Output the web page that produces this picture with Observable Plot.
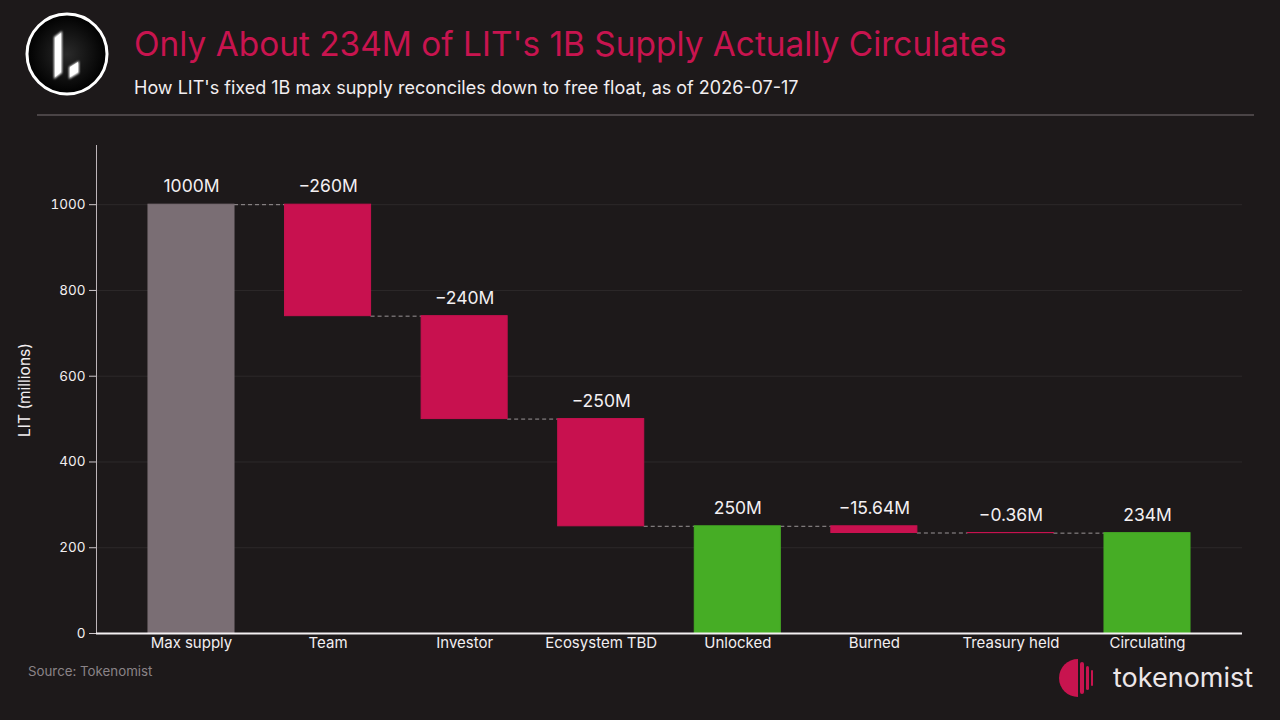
<!DOCTYPE html>
<html>
<head>
<meta charset="utf-8">
<script src="https://cdn.jsdelivr.net/npm/d3@7"></script>
<script src="https://cdn.jsdelivr.net/npm/@observablehq/plot@0.6"></script>
<style>
  html, body { margin: 0; padding: 0; }
  body { width: 1280px; height: 720px; background: #1d191a; position: relative; overflow: hidden; font-family: Inter, "Noto Sans", sans-serif; }
  #logo { position: absolute; left: 24px; top: 11px; }
  #title { position: absolute; left: 134px; top: 24px; font-size: 33.4px; color: #c8144f; white-space: nowrap; }
  #subtitle { position: absolute; left: 134px; top: 77px; font-size: 18px; color: #f2eef0; white-space: nowrap; }
  #sep { position: absolute; left: 37px; top: 114px; width: 1217px; height: 2px; background: #4a4446; }
  #chart { position: absolute; left: 0; top: 130px; }
  #ylabel { position: absolute; left: 24px; top: 390px; transform: translate(-50%, -50%) rotate(-90deg); font-size: 15.5px; color: #f2eef0; white-space: nowrap; }
  #source { position: absolute; left: 28px; top: 663px; font-size: 13.3px; color: #8a8387; }
  #brand { position: absolute; left: 1058px; top: 658px; }
</style>
</head>
<body>
<svg id="logo" width="86" height="86" viewBox="0 0 86 86">
  <defs>
    <radialGradient id="lg" cx="50%" cy="50%" r="50%">
      <stop offset="0%" stop-color="#2a2a2a"/>
      <stop offset="100%" stop-color="#000"/>
    </radialGradient>
    <filter id="glow"><feGaussianBlur stdDeviation="1.2"/></filter>
  </defs>
  <circle cx="43" cy="43" r="40" fill="url(#lg)" stroke="#fff" stroke-width="3"/>
  <g fill="#fff" filter="url(#glow)">
    <polygon points="30,26 38,20 38,62 30,68"/>
    <polygon points="45,56 55,50 55,62 45,68"/>
  </g>
  <g fill="#fff">
    <polygon points="31,27 37,22 37,61 31,66"/>
    <polygon points="46,56 54,51 54,61 46,66"/>
  </g>
</svg>
<div id="title">Only About 234M of LIT's 1B Supply Actually Circulates</div>
<div id="subtitle">How LIT's fixed 1B max supply reconciles down to free float, as of 2026-07-17</div>
<div id="sep"></div>
<div id="chart"></div>
<div id="ylabel">LIT (millions)</div>
<div id="source">Source: Tokenomist</div>
<svg id="brand" width="200" height="42" viewBox="0 0 200 42">
  <defs><clipPath id="hc"><rect x="0" y="0" width="20" height="42"/></clipPath></defs>
  <circle cx="20" cy="20" r="19" fill="#c8144f" clip-path="url(#hc)"/>
  <rect x="22" y="4" width="4" height="32" rx="2" fill="#c8144f"/>
  <rect x="28" y="8" width="3" height="24" rx="1.5" fill="#c8144f"/>
  <rect x="33" y="12" width="2" height="16" rx="1" fill="#c8144f"/>
  <text x="55" y="29" font-size="27" fill="#ece6e8" font-family="Inter, sans-serif">tokenomist</text>
</svg>
<script>
// ---- data ----
const categories = ["Max supply", "Team", "Investor", "Ecosystem TBD", "Unlocked", "Burned", "Treasury held", "Circulating"];
const values = [1000, -260, -240, -250, 250, -15.64, -0.36, 234];
const kinds = ["total", "delta", "delta", "delta", "subtotal", "delta", "delta", "subtotal"];
const yTicks = [0, 200, 400, 600, 800, 1000];

const colors = { total: "#7a6e74", delta: "#c8114f", subtotal: "#46ad25" };

// build waterfall rows
let running = 0;
const rows = categories.map((c, i) => {
  let start, end;
  if (kinds[i] === "delta") { start = running; end = running + values[i]; running = end; }
  else { start = 0; end = values[i]; running = values[i]; }
  const label = (values[i] < 0 ? "\u2212" : "") + Math.abs(values[i]) + "M";
  return { i, cat: c, kind: kinds[i], start, end, top: Math.max(start, end), label };
});
const half = 0.315;
const connectors = rows.slice(0, -1).map(r => ({ x1: r.i + half, x2: r.i + 1 - half, y: r.end }));

const chart = Plot.plot({
  width: 1280,
  height: 530,
  marginLeft: 96,
  marginRight: 38,
  marginTop: 15,
  marginBottom: 27,
  style: { background: "transparent", color: "#f2eef0", fontFamily: "Inter, 'Noto Sans', sans-serif", fontSize: "13.5px" },
  x: { domain: [-0.6956, 7.6956], axis: null },
  y: { domain: [0, 1138], axis: null },
  marks: [
    Plot.gridY(yTicks, { stroke: "#ffffff", strokeOpacity: 0.07 }),
    Plot.ruleY(connectors, { x1: "x1", x2: "x2", y: "y", stroke: "#9a9496", strokeDasharray: "4,3", strokeWidth: 1 }),
    Plot.rectY(rows, { x1: d => d.i - half, x2: d => d.i + half, y1: "start", y2: "end", fill: d => colors[d.kind], stroke: d => colors[d.kind], strokeWidth: 1 }),
    Plot.text(rows, { x: "i", y: "top", text: "label", dy: -18, fill: "#f4f0f2", fontSize: 17.5 }),
    Plot.axisY(yTicks, { tickSize: 7, tickPadding: 4, stroke: "#cfc8cc", fill: "#f2eef0", fontSize: 13.5, tickFormat: d => String(d), label: null }),
    Plot.axisX(d3.range(categories.length), { tickSize: 0, tickPadding: 4, tickFormat: i => categories[i], fill: "#f2eef0", fontSize: 15, label: null }),
    Plot.frame({ anchor: "left", stroke: "#bdb5b9" }),
    Plot.ruleY([0], { stroke: "#f4f0f2", strokeWidth: 2 })
  ]
});
document.getElementById("chart").appendChild(chart);
</script>
</body>
</html>
